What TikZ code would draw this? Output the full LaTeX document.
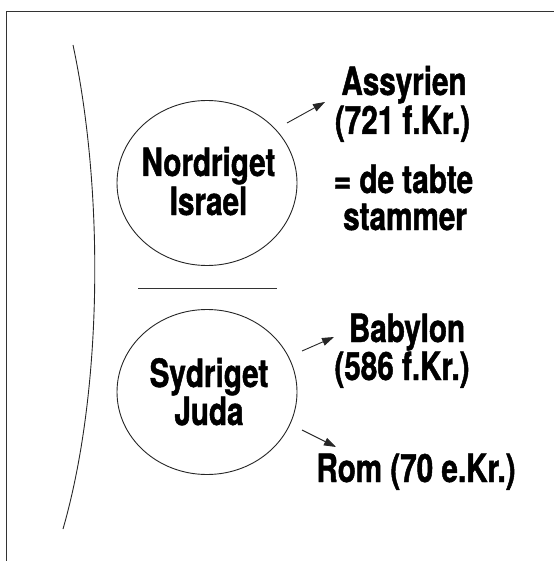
\documentclass[tikz,border=0pt]{standalone}
\usepackage{fontspec}
\setmainfont{TeX Gyre Heros}[FakeStretch=0.76, BoldFeatures={FakeBold=1.2}]
\usetikzlibrary{shapes.geometric,arrows.meta}
\tikzset{
  lbl/.style={font=\bfseries\fontsize{39}{40}\selectfont, inner sep=0pt, text=black, anchor=base},
  blob/.style={ellipse, draw=black!85, line width=0.9pt, minimum width=180pt, minimum height=165pt, inner sep=0pt},
  arr/.style={draw=black!85, line width=0.9pt, -{Triangle[length=12pt,width=8pt]}},
  rule/.style={draw=black!80, line width=1pt}
}
\begin{document}
\begin{tikzpicture}[x=1pt,y=-1pt]
\useasboundingbox (0,0) rectangle (554,561);
\draw[rule] (6,561) -- (6,12) -- (554,12);
\draw[draw=black!85, line width=0.9pt] (73,45) .. controls (104,190) and (103,390) .. (63,529);
\node[blob] (n1) at (207,183) {};
\node[lbl] (t1a) at (208.5,176) {Nordriget};
\node[lbl] (t1b) at (208.5,215) {Israel};
\draw[draw=black!80, line width=0.9pt] (138,288) -- (277,288);
\node[blob] (n2) at (207,392) {};
\node[lbl] (t2a) at (209,387) {Sydriget};
\node[lbl] (t2b) at (209,425) {Juda};
\node[lbl] (a1) at (404,95) {Assyrien};
\node[lbl] (a2) at (402.5,134) {(721 f.Kr.)};
\node[lbl] (a3) at (403.5,193) {= de tabte};
\node[lbl] (a4) at (405,230) {stammer};
\node[lbl] (b1) at (407,342) {Babylon};
\node[lbl] (b2) at (402,380) {(586 f.Kr.)};
\node[lbl] (r1) at (416,482) {Rom (70 e.Kr.)};
\coordinate (s1) at (287,123);
\coordinate (e1) at (325,102);
\coordinate (s2) at (302,351);
\coordinate (e2) at (334,337);
\coordinate (s3) at (302,430);
\coordinate (e3) at (336,447);
\draw[arr] (s1) -- (e1);
\draw[arr] (s2) -- (e2);
\draw[arr] (s3) -- (e3);
\end{tikzpicture}
\end{document}
